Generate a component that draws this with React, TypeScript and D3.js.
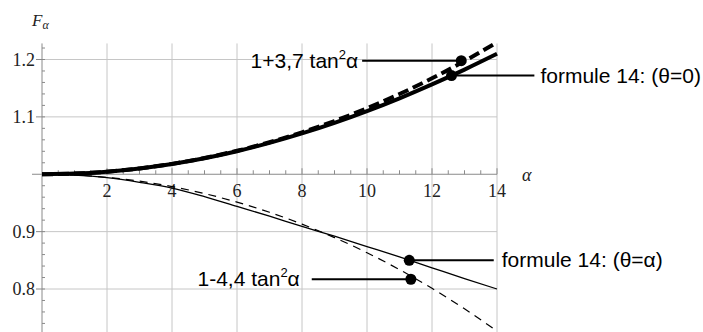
import React from "react";
import * as d3 from "d3";

// alpha in degrees, sampled every degree
const alphaDeg = [0, 1, 2, 3, 4, 5, 6, 7, 8, 9, 10, 11, 12, 13, 14];
// 1+3,7 tan²α (thick dashed)
const upperTan = [1.0, 1.0011, 1.0045, 1.0102, 1.0181, 1.0283, 1.0409, 1.0558, 1.0731, 1.0928, 1.115, 1.1398, 1.1672, 1.1972, 1.23];
// formule 14: (θ=0) (thick solid)
const upperF14 = [1.0, 1.0011, 1.0045, 1.0101, 1.018, 1.028, 1.0402, 1.0546, 1.0711, 1.0895, 1.11, 1.1324, 1.1566, 1.1824, 1.2099];
// 1-4,4 tan²α (thin dashed)
const lowerTan = [1.0, 0.9987, 0.9946, 0.9879, 0.9785, 0.9663, 0.9514, 0.9337, 0.9131, 0.8896, 0.8632, 0.8338, 0.8012, 0.7655, 0.7265];
// formule 14: (θ=α) (thin solid)
const lowerF14 = [1.0, 0.9985, 0.994, 0.986, 0.976, 0.961, 0.944, 0.927, 0.909, 0.892, 0.874, 0.856, 0.837, 0.818, 0.8];

const xTicks = [2, 4, 6, 8, 10, 12, 14];
const yTicks = [0.8, 0.9, 1.1, 1.2];

// callouts: marker position, leader line end (in alpha), label
const calloutAlpha = [12.9, 12.6, 11.3, 11.35];
const calloutValue = [1.198, 1.172, 0.85, 0.817];
const calloutEnd = [9.85, 15.15, 13.9, 8.3];
const calloutGap = [4, 6, 8, 12];
const calloutText = ["1+3,7 tan", "formule 14: (θ=0)", "formule 14: (θ=α)", "1-4,4 tan"];
const calloutSup = [true, false, false, true];

const W = 703;
const H = 332;

export default function App() {
  const x = d3.scaleLinear().domain([0, 14]).range([42, 497]);
  const y = d3.scaleLinear().domain([0.8, 1.2]).range([289, 59.5]);
  const yTop = 1.228;
  const yBottom = 0.725;

  const line = (vals: number[]) =>
    d3
      .line<number>()
      .x((_, i) => x(alphaDeg[i]))
      .y((d) => y(d))
      .curve(d3.curveMonotoneX)(vals) || "";

  const minorX = d3.range(0.5, 14.01, 0.5);
  const minorY = d3.range(0.74, 1.23, 0.02).filter((v) => Math.abs(v - 1) > 0.001);

  const serif = "'Times New Roman', 'Liberation Serif', serif";
  const sans = "'Liberation Sans', Arial, sans-serif";

  return (
    <svg
      width={W}
      height={H}
      style={{ position: "absolute", left: 0, top: 0, background: "#fff" }}
    >
      {/* grid */}
      <g stroke="#c6c6c6" strokeWidth={1}>
        {xTicks.map((t) => (
          <line key={"gx" + t} x1={x(t)} x2={x(t)} y1={y(yTop)} y2={y(yBottom)} />
        ))}
        {yTicks.map((t) => (
          <line key={"gy" + t} x1={x(0)} x2={x(14)} y1={y(t)} y2={y(t)} />
        ))}
      </g>
      {/* axes */}
      <g stroke="#8a8a8a" strokeWidth={1}>
        <line x1={x(0)} x2={x(0)} y1={y(yTop)} y2={y(yBottom)} />
        <line x1={x(0) - 10} x2={x(14)} y1={y(1)} y2={y(1)} />
        {minorX.map((t) => (
          <line key={"mx" + t} x1={x(t)} x2={x(t)} y1={y(1)} y2={y(1) - (t % 2 === 0 ? 6 : 4)} />
        ))}
        {minorY.map((t) => (
          <line key={"my" + t} x1={x(0)} x2={x(0) + 3} y1={y(t)} y2={y(t)} />
        ))}
        {yTicks.map((t) => (
          <line key={"ty" + t} x1={x(0) - 6} x2={x(0)} y1={y(t)} y2={y(t)} />
        ))}
      </g>
      {/* tick labels */}
      <g fontFamily={serif} fontSize={18} fill="#222">
        {xTicks.map((t) => (
          <text key={"lx" + t} x={x(t)} y={y(1) + 23} textAnchor="middle">
            {t}
          </text>
        ))}
        {yTicks.map((t) => (
          <text key={"ly" + t} x={x(0) - 7} y={y(t) + 6} textAnchor="end">
            {t.toFixed(1)}
          </text>
        ))}
        <text x={522} y={181} fontStyle="italic">
          α
        </text>
        <text x={32} y={26} fontStyle="italic" fontSize={17}>
          F
          <tspan fontSize={12} dy={3}>
            α
          </tspan>
        </text>
      </g>
      {/* curves */}
      <g fill="none" stroke="#000">
        <path d={line(lowerF14)} strokeWidth={1.3} />
        <path d={line(lowerTan)} strokeWidth={1.2} strokeDasharray="8,6" />
        <path d={line(upperF14)} strokeWidth={4} />
        <path d={line(upperTan)} strokeWidth={4} strokeDasharray="11,5" />
      </g>
      {/* callouts */}
      <g fontFamily={sans} fontSize={21} fill="#000">
        {calloutAlpha.map((a, i) => {
          const cx = x(a);
          const cy = y(calloutValue[i]);
          const ex = x(calloutEnd[i]);
          const left = calloutEnd[i] < a;
          return (
            <g key={"c" + i}>
              <line x1={cx} x2={ex} y1={cy} y2={cy} stroke="#000" strokeWidth={2} />
              <circle cx={cx} cy={cy} r={5.5} fill="#000" />
              <text
                x={left ? ex - calloutGap[i] : ex + calloutGap[i]}
                y={cy + 7}
                textAnchor={left ? "end" : "start"}
              >
                {calloutText[i]}
                {calloutSup[i] && (
                  <>
                    <tspan fontSize={13} dy={-9}>
                      2
                    </tspan>
                    <tspan dy={9}>α</tspan>
                  </>
                )}
              </text>
            </g>
          );
        })}
      </g>
    </svg>
  );
}
